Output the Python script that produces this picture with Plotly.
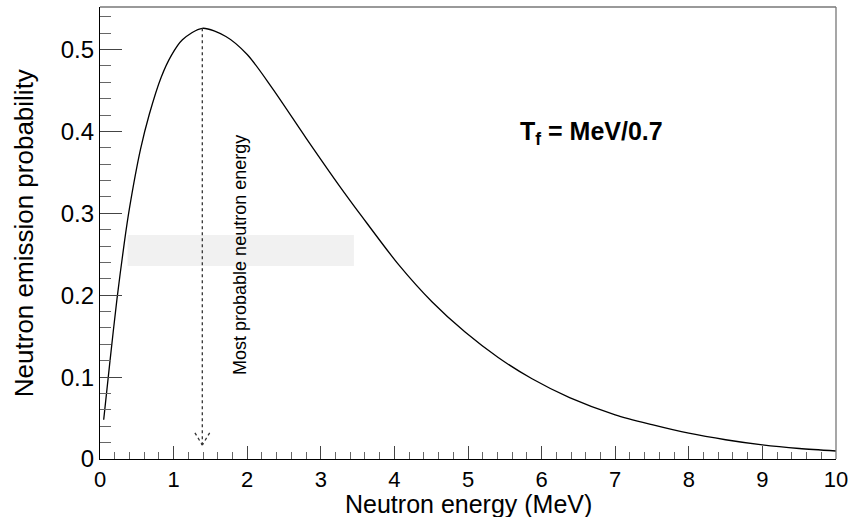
import plotly.graph_objects as go

# Neutron emission spectrum (values sampled along the curve)
energy_mev = [0.05, 0.13, 0.23, 0.33, 0.40, 0.55, 0.67, 0.83, 0.97, 1.12, 1.39,
              1.71, 2.00, 2.34, 2.80, 3.25, 3.56, 4.06, 4.51, 4.96, 5.41, 5.87,
              6.38, 7.00, 7.50, 8.00, 8.50, 9.00, 9.50, 10.00]
probability = [0.048, 0.115, 0.195, 0.264, 0.306, 0.378, 0.421, 0.466, 0.493, 0.512, 0.526,
               0.516, 0.494, 0.453, 0.392, 0.334, 0.296, 0.237, 0.192, 0.155, 0.124, 0.098,
               0.075, 0.054, 0.042, 0.0315, 0.0235, 0.0172, 0.0128, 0.0098]

# Most probable energy marker
peak_energy = 1.39
peak_prob = 0.526
arrow_tip_prob = 0.017
arrow_head_dx = 0.10
arrow_head_dy = 0.015

# Light band behind the label
band_x = [0.375, 3.45]
band_y = [0.2357, 0.2735]

x_ticks = [0, 1, 2, 3, 4, 5, 6, 7, 8, 9, 10]
y_ticks = [0, 0.1, 0.2, 0.3, 0.4, 0.5]
y_tick_text = ["0", "0.1", "0.2", "0.3", "0.4", "0.5"]

FONT = "Liberation Sans, Arial, Helvetica, sans-serif"

fig = go.Figure()

fig.add_trace(go.Scatter(
    x=energy_mev, y=probability, mode="lines",
    line=dict(color="black", width=1.3, shape="spline", smoothing=0.8),
    hoverinfo="skip", showlegend=False,
))

dot = dict(color="#333333", width=1.3, dash="dot")
shapes = [
    dict(type="rect", xref="x", yref="y", x0=band_x[0], x1=band_x[1],
         y0=band_y[0], y1=band_y[1], fillcolor="#f1f1f1", line=dict(width=0),
         layer="below"),
    dict(type="line", xref="x", yref="y", x0=peak_energy, x1=peak_energy,
         y0=peak_prob, y1=arrow_tip_prob, line=dot),
    dict(type="line", xref="x", yref="y", x0=peak_energy - arrow_head_dx, x1=peak_energy,
         y0=arrow_tip_prob + arrow_head_dy, y1=arrow_tip_prob, line=dot),
    dict(type="line", xref="x", yref="y", x0=peak_energy + arrow_head_dx, x1=peak_energy,
         y0=arrow_tip_prob + arrow_head_dy, y1=arrow_tip_prob, line=dot),
    # frame: top and right edges
    dict(type="line", xref="paper", yref="paper", x0=0, x1=1, y0=1, y1=1,
         line=dict(color="#777777", width=1.3)),
    dict(type="line", xref="paper", yref="paper", x0=1, x1=1, y0=0, y1=1,
         line=dict(color="#777777", width=1.3)),
]

annotations = [
    dict(x=1.9, y=0.249, xref="x", yref="y", text="Most probable neutron energy",
         textangle=-90, showarrow=False, font=dict(family=FONT, size=18, color="black")),
    dict(x=6.68, y=0.398, xref="x", yref="y", text="<b>T<sub>f</sub> = MeV/0.7</b>",
         showarrow=False, font=dict(family=FONT, size=25, color="black")),
    # axis titles
    dict(x=0.5, y=-0.0985, xref="paper", yref="paper", text="Neutron energy (MeV)",
         showarrow=False, xanchor="center", yanchor="middle",
         font=dict(family=FONT, size=25, color="black")),
    dict(x=-0.103, y=0.5, xref="paper", yref="paper", text="Neutron emission probability",
         textangle=-90, showarrow=False, xanchor="center", yanchor="middle",
         font=dict(family=FONT, size=26, color="black")),
]

fig.update_layout(
    width=855, height=517,
    margin=dict(l=100, r=17, t=7, b=58),
    paper_bgcolor="white", plot_bgcolor="white",
    font=dict(family=FONT, color="black"),
    shapes=shapes, annotations=annotations,
    xaxis=dict(
        range=[0, 10], tickvals=x_ticks, ticks="inside", ticklen=13,
        tickcolor="#444444", tickwidth=1,
        minor=dict(dtick=0.2, ticks="inside", ticklen=7, tickcolor="#666666"),
        showgrid=False, zeroline=False, showline=True, linecolor="black", linewidth=1.3,
        tickfont=dict(family=FONT, size=22),
    ),
    yaxis=dict(
        range=[0, 0.552], tickvals=y_ticks, ticktext=y_tick_text, ticks="inside",
        ticklen=22, tickcolor="#444444", tickwidth=1,
        minor=dict(dtick=0.02, ticks="inside", ticklen=11, tickcolor="#666666"),
        showgrid=False, zeroline=False, showline=True, linecolor="black", linewidth=1.3,
        tickfont=dict(family=FONT, size=24),
    ),
)

fig.write_html("out.html")
